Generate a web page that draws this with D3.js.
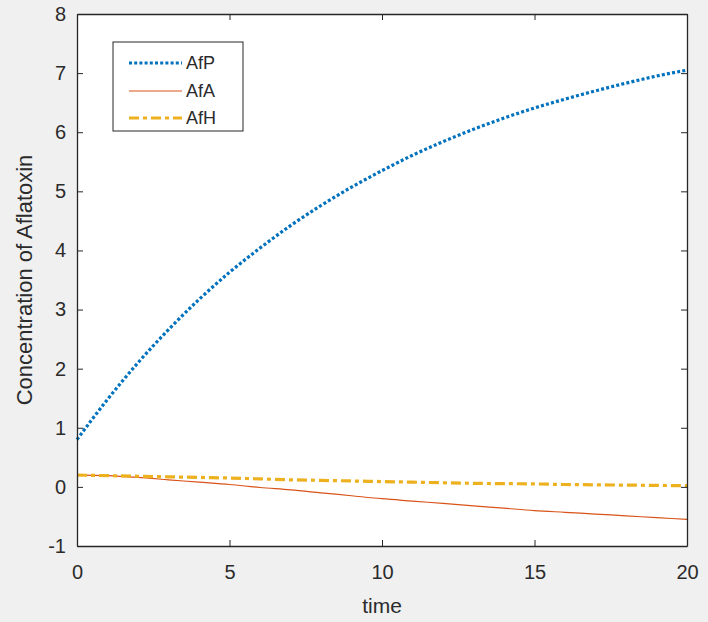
<!DOCTYPE html>
<html>
<head>
<meta charset="utf-8">
<script src="https://cdn.jsdelivr.net/npm/d3@7"></script>
<style>
  body { margin: 0; background: #f0f0f0; }
  svg { display: block; font-family: "Liberation Sans", Arial, sans-serif; }
</style>
</head>
<body>
<svg id="chart"></svg>
<script>
// values, one per unit of time
var times = [0,1,2,3,4,5,6,7,8,9,10,11,12,13,14,15,16,17,18,19,20];
var afP = [0.80,1.48,2.10,2.66,3.17,3.63,4.04,4.42,4.76,5.07,5.35,5.61,5.84,6.05,6.24,6.41,6.56,6.70,6.83,6.95,7.05];
var afA = [0.20,0.19,0.16,0.12,0.08,0.04,-0.01,-0.05,-0.10,-0.15,-0.20,-0.24,-0.28,-0.32,-0.36,-0.40,-0.43,-0.46,-0.49,-0.52,-0.55];
var afH = [0.20,0.19,0.18,0.17,0.16,0.15,0.135,0.12,0.11,0.10,0.09,0.08,0.07,0.06,0.055,0.05,0.04,0.035,0.03,0.025,0.02];
var seriesNames = ["AfP","AfA","AfH"];
var xTicks = [0,5,10,15,20];
var yTicks = [-1,0,1,2,3,4,5,6,7,8];

var screen = {width:708, height:622};
var box = {left:77, top:14, right:687, bottom:546};

var svg = d3.select("#chart")
    .attr("width", screen.width)
    .attr("height", screen.height);

var xScale = d3.scaleLinear().domain([0,20]).range([box.left, box.right]);
var yScale = d3.scaleLinear().domain([-1,8]).range([box.bottom, box.top]);

// white plot area
svg.append("rect")
    .attr("x", box.left).attr("y", box.top)
    .attr("width", box.right - box.left)
    .attr("height", box.bottom - box.top)
    .attr("fill", "white");

var styles = [
    {color:"#0072BD", width:3.2, dash:"3,2.2"},
    {color:"#D95319", width:1.2, dash:null},
    {color:"#EDB120", width:3.2, dash:"10,4,4,4"}
];
var allSeries = [afP, afA, afH];

var line = d3.line()
    .x(function(d){ return xScale(d.t); })
    .y(function(d){ return yScale(d.v); })
    .curve(d3.curveMonotoneX);

var plot = svg.append("g");
allSeries.forEach(function(vals, i)
{
    var pts = times.map(function(t, j){ return {t:t, v:vals[j]}; });
    plot.append("path")
        .datum(pts)
        .attr("d", line)
        .attr("fill", "none")
        .attr("stroke", styles[i].color)
        .attr("stroke-width", styles[i].width)
        .attr("stroke-dasharray", styles[i].dash);
});

// axes, ticks pointing inward on all four sides
var axisColor = "#262626";
var plain = function(d){ return String(d); }; // hyphen minus like the original
var bottomAxis = d3.axisBottom(xScale).tickValues(xTicks).tickFormat(plain).tickSizeInner(-6).tickSizeOuter(0).tickPadding(19);
var leftAxis = d3.axisLeft(yScale).tickValues(yTicks).tickFormat(plain).tickSizeInner(-6).tickSizeOuter(0).tickPadding(11);
var topAxis = d3.axisTop(xScale).tickValues(xTicks).tickSizeInner(-6).tickSizeOuter(0).tickFormat("");
var rightAxis = d3.axisRight(yScale).tickValues(yTicks).tickSizeInner(-6).tickSizeOuter(0).tickFormat("");

var gB = svg.append("g").attr("transform", "translate(0," + box.bottom + ")").call(bottomAxis);
var gL = svg.append("g").attr("transform", "translate(" + box.left + ",0)").call(leftAxis);
var gT = svg.append("g").attr("transform", "translate(0," + box.top + ")").call(topAxis);
var gR = svg.append("g").attr("transform", "translate(" + box.right + ",0)").call(rightAxis);

[gB, gL, gT, gR].forEach(function(g)
{
    g.selectAll("path").attr("stroke", axisColor).attr("stroke-width", 1.3);
    g.selectAll("line").attr("stroke", axisColor).attr("stroke-width", 1);
    g.selectAll("text")
        .attr("fill", "#2b2b2b")
        .style("font-size", "20px")
        .style("font-family", "'Liberation Sans', Arial, sans-serif");
});

// axis labels
svg.append("text")
    .attr("x", (box.left + box.right) / 2)
    .attr("y", 613)
    .attr("text-anchor", "middle")
    .attr("fill", "#2b2b2b")
    .style("font-size", "21px")
    .text("time");

svg.append("text")
    .attr("transform", "translate(32," + ((box.top + box.bottom) / 2) + ") rotate(-90)")
    .attr("text-anchor", "middle")
    .attr("fill", "#2b2b2b")
    .style("font-size", "22px")
    .text("Concentration of Aflatoxin");

// legend
var legend = svg.append("g");
legend.append("rect")
    .attr("x", 113).attr("y", 42)
    .attr("width", 130).attr("height", 89)
    .attr("fill", "white")
    .attr("stroke", axisColor)
    .attr("stroke-width", 1);

var legY = [63, 91, 118];
seriesNames.forEach(function(name, i)
{
    legend.append("line")
        .attr("x1", 129).attr("x2", 182)
        .attr("y1", legY[i]).attr("y2", legY[i])
        .attr("stroke", styles[i].color)
        .attr("stroke-width", styles[i].width)
        .attr("stroke-dasharray", styles[i].dash);
    legend.append("text")
        .attr("x", 186).attr("y", legY[i])
        .attr("dy", "0.35em")
        .attr("fill", "#2b2b2b")
        .style("font-size", "18px")
        .text(name);
});
</script>
</body>
</html>
